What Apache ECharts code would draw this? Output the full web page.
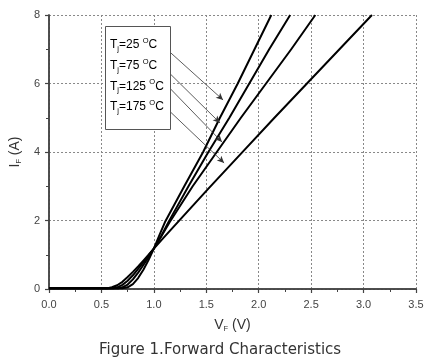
<!DOCTYPE html>
<html><head><meta charset="utf-8">
<script src="https://cdn.jsdelivr.net/npm/echarts@6/dist/echarts.min.js"></script>
<style>html,body{margin:0;padding:0;background:#fff}#c{width:428px;height:364px}</style>
</head><body><div id="c"></div>
<script>
// Forward characteristics: [VF (V), IF (A)]
const curve25 = [[0,0.02],[0.5,0.02],[0.7,0.02],[0.75,0.05],[0.8,0.14],[0.85,0.32],[0.9,0.56],[0.95,0.85],[1.0,1.18],[1.05,1.55],[1.11,1.98],[1.29,3.0],[1.47,4.0],[1.63,5.0],[1.8,6.0],[1.96,7.0],[2.12,8.0]];
const curve75 = [[0,0.02],[0.5,0.02],[0.66,0.02],[0.7,0.05],[0.75,0.13],[0.8,0.28],[0.85,0.48],[0.9,0.7],[0.95,0.93],[1.0,1.18],[1.07,1.55],[1.14,1.96],[1.33,3.0],[1.52,4.0],[1.72,5.0],[1.91,6.0],[2.1,7.0],[2.3,8.0]];
const curve125 = [[0,0.02],[0.5,0.02],[0.61,0.02],[0.65,0.05],[0.7,0.12],[0.75,0.24],[0.8,0.4],[0.85,0.59],[0.9,0.78],[0.95,0.98],[1.0,1.18],[1.07,1.53],[1.15,1.95],[1.37,3.0],[1.6,4.0],[1.83,5.0],[2.07,6.0],[2.31,7.0],[2.54,8.0]];
const curve175 = [[0,0.02],[0.5,0.02],[0.56,0.02],[0.6,0.05],[0.65,0.11],[0.7,0.21],[0.75,0.35],[0.8,0.5],[0.85,0.66],[0.9,0.83],[0.95,1.0],[1.0,1.18],[1.1,1.52],[1.2,1.86],[1.52,2.93],[1.84,3.98],[2.15,5.0],[2.46,6.0],[2.77,7.0],[3.08,8.0]];
const seriesNames = ['Tj=25 °C','Tj=75 °C','Tj=125 °C','Tj=175 °C'];
const legendTemps = ['25','75','125','175'];
// annotation arrows: [start [V,I], end [V,I]]
const arrows = [
  [[1.09,7.09],[1.66,5.52]],
  [[1.09,6.48],[1.63,4.85]],
  [[1.15,5.87],[1.65,4.29]],
  [[1.13,5.25],[1.67,3.68]]
];
const xTicks = {min:0, max:3.5, interval:0.5};
const yTicks = {min:0, max:8, interval:2};

const chart = echarts.init(document.getElementById('c'));
const labelFont = {color:'#444', fontSize:11, fontFamily:'Liberation Sans, Arial, sans-serif'};
const axisCommon = {
  axisLine:{show:true, lineStyle:{color:'#444', width:1.5}},
  axisTick:{show:true, inside:false, length:4, lineStyle:{color:'#444', width:1.2}},
  minorTick:{show:true, splitNumber:2, length:3, lineStyle:{color:'#444', width:1}},
};
const dataList = [curve25, curve75, curve125, curve175];
const series = dataList.map((d,i)=>({
  name: seriesNames[i], type:'line', data:d, showSymbol:false, smooth:false,
  lineStyle:{color:'#000', width:2, join:'round'}, silent:true, z:3,
  markLine: {
    silent:true, symbol:['none','arrow'], symbolSize:[5,7], label:{show:false},
    lineStyle:{color:'#333', width:0.8, type:'solid'},
    data:[[{coord:arrows[i][0]},{coord:arrows[i][1]}]]
  }
}));

const sub = {fontSize:7.5, padding:[8,0,0,0], fontFamily:'Liberation Sans, Arial, sans-serif', color:'#333'};
const sup = {fontSize:7.5, padding:[0,0,8,0], fontFamily:'Liberation Sans, Arial, sans-serif', color:'#333'};
const base = {fontSize:12, fontFamily:'Liberation Sans, Arial, sans-serif', color:'#333'};

chart.setOption({
  animation:false,
  grid:{left:45, right:12, top:15, bottom:75},
  title:{text:'Figure 1.Forward Characteristics', left:94, top:338,
    textStyle:{fontSize:15, fontWeight:'normal', color:'#333', fontFamily:'DejaVu Sans, Verdana, sans-serif'}},
  xAxis:[
    Object.assign({type:'value', min:xTicks.min, max:xTicks.max, interval:xTicks.interval, position:'bottom',
      axisLabel:Object.assign({formatter:v=>v.toFixed(1), margin:10}, labelFont),
      splitLine:{show:true, lineStyle:{color:'#888', type:[2,2], width:1}},
      name:'{b|V}{s|F}{b| (V)}', nameLocation:'middle', nameGap:28,
      nameTextStyle:{rich:{b:Object.assign({}, base, {fontSize:14}), s:Object.assign({}, sub, {padding:[8,0,0,0]})}}
    }, axisCommon),
    Object.assign({type:'value', min:xTicks.min, max:xTicks.max, interval:xTicks.interval, position:'top',
      axisLabel:{show:false}, splitLine:{show:false}}, axisCommon, {axisTick:{show:true, inside:true, length:3, lineStyle:{color:'#444'}}, minorTick:{show:true, splitNumber:2, length:2, lineStyle:{color:'#444'}}})
  ],
  yAxis:[
    Object.assign({type:'value', min:yTicks.min, max:yTicks.max, interval:yTicks.interval, position:'left',
      axisLabel:Object.assign({margin:9}, labelFont),
      splitLine:{show:true, lineStyle:{color:'#888', type:[2,2], width:1}},
      name:'{b|I}{s|F}{b| (A)}', nameLocation:'middle', nameGap:22, nameRotate:90,
      nameTextStyle:{rich:{b:Object.assign({}, base, {fontSize:14}), s:Object.assign({}, sub, {padding:[8,0,0,0]})}}
    }, axisCommon),
    Object.assign({type:'value', min:yTicks.min, max:yTicks.max, interval:yTicks.interval, position:'right',
      axisLabel:{show:false}, splitLine:{show:false}}, axisCommon, {axisTick:{show:true, inside:true, length:3, lineStyle:{color:'#444'}}, minorTick:{show:true, splitNumber:2, length:3, lineStyle:{color:'#444'}}})
  ],
  series: series,
  graphic:[
    {type:'rect', left:105, top:26, z:10, shape:{width:65, height:103}, style:{fill:'#fff', stroke:'#555', lineWidth:1}},
    ...legendTemps.map((t,i)=>({
      type:'text', left:110, top:37 + i*20.7, z:11,
      style:{text:'{b|T}{s|j}{b|=' + t + ' }{p|O}{b|C}', rich:{b:base, s:sub, p:sup}}
    }))
  ]
});
</script></body></html>
